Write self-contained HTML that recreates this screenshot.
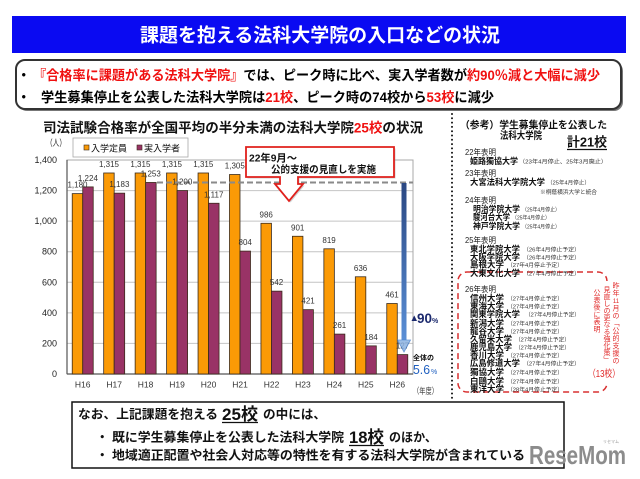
<!DOCTYPE html>
<html><head><meta charset="utf-8">
<style>
html,body{margin:0;padding:0;background:#fff;}
svg{display:block;}
text{font-family:"Liberation Sans","Noto Sans CJK JP",sans-serif;}
</style></head><body>
<svg width="640" height="479" viewBox="0 0 640 479" xmlns="http://www.w3.org/2000/svg">
<defs>
<linearGradient id="ag" x1="0" y1="0" x2="0" y2="1">
<stop offset="0" stop-color="#2a4782"/><stop offset="1" stop-color="#5a8fd6"/>
</linearGradient>
</defs>
<rect width="640" height="479" fill="#fff"/>

<!-- Title -->
<rect x="12" y="16" width="614" height="37" fill="#0a0af2"/>
<text x="140" y="41.5" font-size="19" font-weight="bold" fill="#fff" textLength="360" lengthAdjust="spacingAndGlyphs">課題を抱える法科大学院の入口などの状況</text>

<!-- Top box -->
<rect x="18" y="62" width="605" height="49" rx="9" fill="#777"/>
<rect x="16" y="60" width="605" height="49" rx="9" fill="#fff" stroke="#333" stroke-width="2"/>
<text x="17" y="80" font-size="13.5" font-weight="bold" fill="#000">・</text>
<text x="33" y="80" font-size="13.5" font-weight="bold" fill="#000" textLength="567" lengthAdjust="spacingAndGlyphs"><tspan fill="#f01010">『合格率に課題がある法科大学院』</tspan>では、ピーク時に比べ、実入学者数が<tspan fill="#f01010">約90％減と大幅に減少</tspan></text>
<text x="17" y="102" font-size="13.5" font-weight="bold" fill="#000">・</text>
<text x="41" y="102" font-size="13.5" font-weight="bold" fill="#000" textLength="453" lengthAdjust="spacingAndGlyphs">学生募集停止を公表した法科大学院は<tspan fill="#f01010">21校</tspan>、ピーク時の74校から<tspan fill="#f01010">53校</tspan>に減少</text>

<!-- Chart heading -->
<text x="43" y="132.5" font-size="13.5" font-weight="bold" fill="#111" textLength="380" lengthAdjust="spacingAndGlyphs">司法試験合格率が全国平均の半分未満の法科大学院<tspan fill="#f01010">25校</tspan>の状況</text>

<!-- unit -->
<text x="46" y="146" font-size="9" fill="#222" textLength="20" lengthAdjust="spacingAndGlyphs">（人）</text>

<!-- Grid -->
<g stroke="#c4c4c4" stroke-width="1">
<line x1="67" y1="343.4" x2="413" y2="343.4"/>
<line x1="67" y1="312.9" x2="413" y2="312.9"/>
<line x1="67" y1="282.3" x2="413" y2="282.3"/>
<line x1="67" y1="251.7" x2="413" y2="251.7"/>
<line x1="67" y1="221.1" x2="413" y2="221.1"/>
<line x1="67" y1="190.6" x2="413" y2="190.6"/>
</g>
<rect x="67" y="160" width="346" height="214" fill="none" stroke="#a8a8a8" stroke-width="1"/>
<line x1="67" y1="160" x2="67" y2="374" stroke="#555" stroke-width="1.2"/>
<line x1="67" y1="374" x2="413" y2="374" stroke="#555" stroke-width="1.2"/>

<!-- Y tick labels -->
<g font-size="9" fill="#222" text-anchor="end">
<text x="57" y="163">1,400</text>
<text x="57" y="193.6">1,200</text>
<text x="57" y="224.1">1,000</text>
<text x="57" y="254.7">800</text>
<text x="57" y="285.3">600</text>
<text x="57" y="315.9">400</text>
<text x="57" y="346.4">200</text>
<text x="57" y="377">0</text>
</g>

<!-- Bars -->
<g stroke="#3a2a1a" stroke-width="0.8">
<rect x="72.23" y="193.62" width="10.5" height="180.38" fill="#fb9a06"/>
<rect x="82.73" y="186.90" width="10.5" height="187.10" fill="#993366"/>
<rect x="103.68" y="172.99" width="10.5" height="201.01" fill="#fb9a06"/>
<rect x="114.18" y="193.16" width="10.5" height="180.84" fill="#993366"/>
<rect x="135.14" y="172.99" width="10.5" height="201.01" fill="#fb9a06"/>
<rect x="145.64" y="182.47" width="10.5" height="191.53" fill="#993366"/>
<rect x="166.59" y="172.99" width="10.5" height="201.01" fill="#fb9a06"/>
<rect x="177.09" y="190.57" width="10.5" height="183.43" fill="#993366"/>
<rect x="198.05" y="172.99" width="10.5" height="201.01" fill="#fb9a06"/>
<rect x="208.55" y="203.26" width="10.5" height="170.74" fill="#993366"/>
<rect x="229.5" y="174.52" width="10.5" height="199.48" fill="#fb9a06"/>
<rect x="240.0" y="251.10" width="10.5" height="122.90" fill="#993366"/>
<rect x="260.95" y="223.28" width="10.5" height="150.72" fill="#fb9a06"/>
<rect x="271.45" y="291.15" width="10.5" height="82.85" fill="#993366"/>
<rect x="292.41" y="236.27" width="10.5" height="137.73" fill="#fb9a06"/>
<rect x="302.91" y="309.65" width="10.5" height="64.35" fill="#993366"/>
<rect x="323.86" y="248.81" width="10.5" height="125.19" fill="#fb9a06"/>
<rect x="334.36" y="334.10" width="10.5" height="39.90" fill="#993366"/>
<rect x="355.32" y="276.78" width="10.5" height="97.22" fill="#fb9a06"/>
<rect x="365.82" y="345.87" width="10.5" height="28.13" fill="#993366"/>
<rect x="386.77" y="303.53" width="10.5" height="70.47" fill="#fb9a06"/>
<rect x="397.27" y="354.59" width="10.5" height="19.41" fill="#993366"/>
</g>

<!-- dashed peak line -->
<line x1="157" y1="182.5" x2="413" y2="182.5" stroke="#8a8a8a" stroke-width="2" stroke-dasharray="6,3"/>

<!-- Value labels -->
<g font-size="8" fill="#333" text-anchor="middle">
<text x="77.5" y="187.6">1,180</text>
<text x="87.9" y="180.9">1,224</text>
<text x="109" y="167">1,315</text>
<text x="119.4" y="187.2">1,183</text>
<text x="140.4" y="167">1,315</text>
<text x="150.8" y="176.5">1,253</text>
<text x="171.9" y="167">1,315</text>
<text x="182.3" y="184.6">1,200</text>
<text x="203.3" y="167">1,315</text>
<text x="213.7" y="197.3">1,117</text>
<text x="234.8" y="168.5">1,305</text>
<text x="245.2" y="245.1">804</text>
<text x="266.2" y="217.3">986</text>
<text x="276.6" y="285.2">542</text>
<text x="297.7" y="230.3">901</text>
<text x="308.1" y="303.6">421</text>
<text x="329.1" y="242.8">819</text>
<text x="339.6" y="328.1">261</text>
<text x="360.6" y="270.8">636</text>
<text x="371" y="339.9">184</text>
<text x="392" y="297.5">461</text>
<text x="402.5" y="348.6">127</text>
</g>

<!-- Legend -->
<rect x="73" y="138" width="115" height="19" fill="#fff" stroke="#a8a8a8" stroke-width="0.8"/>
<rect x="84" y="145" width="5" height="5" fill="#fb9a06" stroke="#3a2a1a" stroke-width="0.6"/>
<text x="91" y="151.5" font-size="9.2" fill="#111" textLength="36" lengthAdjust="spacingAndGlyphs">入学定員</text>
<rect x="137" y="145" width="5" height="5" fill="#993366" stroke="#3a2a1a" stroke-width="0.6"/>
<text x="144" y="151.5" font-size="9.2" fill="#111" textLength="36" lengthAdjust="spacingAndGlyphs">実入学者</text>

<!-- Callout -->
<polygon points="247.5,148.5 395.5,148.5 395.5,178.5 299.5,178.5 299.5,185.5 304.5,185.5 290.5,202.5 276.5,185.5 281.5,185.5 281.5,178.5 247.5,178.5" fill="#999" opacity="0.45"/>
<polygon points="246,147 394,147 394,177 298,177 298,184 303,184 289,201 275,184 280,184 280,177 246,177" fill="#fff" stroke="#e0201c" stroke-width="1.8" stroke-linejoin="miter"/>
<text x="249" y="161.5" font-size="10.5" font-weight="bold" fill="#111" textLength="48" lengthAdjust="spacingAndGlyphs">22年9月～</text>
<text x="271" y="173" font-size="10" font-weight="bold" fill="#111" textLength="105" lengthAdjust="spacingAndGlyphs">公的支援の見直しを実施</text>

<!-- Blue arrow -->
<rect x="401.5" y="183" width="5" height="157" fill="url(#ag)"/>
<polygon points="397.5,340 410.5,340 404,352" fill="#8db3e2" stroke="#4f86cf" stroke-width="0.8" opacity="0.85"/>

<!-- 90% annotation -->
<polygon points="411.5,321 417,321 414.25,315.5" fill="#1c2a6e"/>
<text x="417" y="323" font-size="14" font-weight="bold" fill="#1c2a6e" textLength="15" lengthAdjust="spacingAndGlyphs">90</text>
<text x="432" y="323" font-size="7" font-weight="bold" fill="#1c2a6e">%</text>
<text x="413" y="360" font-size="7" font-weight="bold" fill="#111" textLength="21" lengthAdjust="spacingAndGlyphs">全体の</text>
<text x="413" y="374" font-size="12.5" fill="#2060c0" textLength="17" lengthAdjust="spacingAndGlyphs">5.6</text>
<text x="431" y="374" font-size="7" fill="#2060c0">%</text>

<!-- X labels -->
<g font-size="8.5" fill="#333" text-anchor="middle">
<text x="82.7" y="387.5">H16</text>
<text x="114.2" y="387.5">H17</text>
<text x="145.6" y="387.5">H18</text>
<text x="177.1" y="387.5">H19</text>
<text x="208.5" y="387.5">H20</text>
<text x="240" y="387.5">H21</text>
<text x="271.5" y="387.5">H22</text>
<text x="302.9" y="387.5">H23</text>
<text x="334.4" y="387.5">H24</text>
<text x="365.8" y="387.5">H25</text>
<text x="397.3" y="387.5">H26</text>
</g>
<text x="413" y="394" font-size="8.5" fill="#333" textLength="25" lengthAdjust="spacingAndGlyphs">（年度）</text>

<!-- Right panel dotted line -->
<line x1="452" y1="114" x2="452" y2="398" stroke="#111" stroke-width="2" stroke-linecap="round" stroke-dasharray="0,4.3"/>

<text x="460" y="128.5" font-size="10" font-weight="bold" fill="#111" textLength="147" lengthAdjust="spacingAndGlyphs">（参考）学生募集停止を公表した</text>
<text x="500" y="139" font-size="10" font-weight="bold" fill="#111" textLength="42" lengthAdjust="spacingAndGlyphs">法科大学院</text>
<text x="567" y="146.5" font-size="13" font-weight="bold" fill="#111" textLength="40" lengthAdjust="spacingAndGlyphs">計21校</text>
<line x1="567" y1="149.5" x2="607" y2="149.5" stroke="#111" stroke-width="1.2"/>

<!-- red dashed box -->
<rect x="458" y="272" width="149" height="120" rx="9" fill="none" stroke="#d83030" stroke-width="1.5" stroke-dasharray="6,4"/>
<rect x="601" y="281" width="13" height="101" fill="#fff"/>

<g font-size="8" fill="#222">
<text x="465" y="155" textLength="31" lengthAdjust="spacingAndGlyphs">22年表明</text>
<text x="465" y="176" textLength="31" lengthAdjust="spacingAndGlyphs">23年表明</text>
<text x="465" y="203" textLength="31" lengthAdjust="spacingAndGlyphs">24年表明</text>
<text x="465" y="243" textLength="31" lengthAdjust="spacingAndGlyphs">25年表明</text>
<text x="465" y="292" textLength="31" lengthAdjust="spacingAndGlyphs">26年表明</text>
</g>

<g font-size="8.5" font-weight="bold" fill="#111">
<text x="470" y="164" textLength="48" lengthAdjust="spacingAndGlyphs">姫路獨協大学</text>
<text x="470" y="185" textLength="75" lengthAdjust="spacingAndGlyphs">大宮法科大学院大学</text>
<text x="473" y="212" textLength="47" lengthAdjust="spacingAndGlyphs">明治学院大学</text>
<text x="473" y="220" textLength="37" lengthAdjust="spacingAndGlyphs">駿河台大学</text>
<text x="473" y="229" textLength="47" lengthAdjust="spacingAndGlyphs">神戸学院大学</text>
<text x="470" y="252" textLength="50" lengthAdjust="spacingAndGlyphs">東北学院大学</text>
<text x="470" y="260" textLength="50" lengthAdjust="spacingAndGlyphs">大阪学院大学</text>
<text x="470" y="267.5" textLength="34" lengthAdjust="spacingAndGlyphs">島根大学</text>
<text x="470" y="276" textLength="50" lengthAdjust="spacingAndGlyphs">大東文化大学</text>
<text x="470" y="301" textLength="34" lengthAdjust="spacingAndGlyphs">信州大学</text>
<text x="470" y="309" textLength="34" lengthAdjust="spacingAndGlyphs">東海大学</text>
<text x="470" y="317" textLength="50" lengthAdjust="spacingAndGlyphs">関東学院大学</text>
<text x="470" y="326" textLength="34" lengthAdjust="spacingAndGlyphs">新潟大学</text>
<text x="470" y="334" textLength="34" lengthAdjust="spacingAndGlyphs">龍谷大学</text>
<text x="470" y="342" textLength="42" lengthAdjust="spacingAndGlyphs">久留米大学</text>
<text x="470" y="350" textLength="42" lengthAdjust="spacingAndGlyphs">鹿児島大学</text>
<text x="470" y="358" textLength="34" lengthAdjust="spacingAndGlyphs">香川大学</text>
<text x="470" y="366" textLength="50" lengthAdjust="spacingAndGlyphs">広島修道大学</text>
<text x="470" y="375" textLength="34" lengthAdjust="spacingAndGlyphs">獨協大学</text>
<text x="470" y="384" textLength="34" lengthAdjust="spacingAndGlyphs">白鷗大学</text>
<text x="470" y="392" textLength="34" lengthAdjust="spacingAndGlyphs">東洋大学</text>
</g>

<g font-size="5.7" fill="#333">
<text x="519" y="163.5" textLength="88" lengthAdjust="spacingAndGlyphs">（23年4月停止、25年3月廃止）</text>
<text x="547" y="184.5" textLength="43" lengthAdjust="spacingAndGlyphs">（25年4月停止）</text>
<text x="540" y="194" textLength="57" lengthAdjust="spacingAndGlyphs">※桐蔭横浜大学と統合</text>
<text x="522" y="211.5" textLength="38" lengthAdjust="spacingAndGlyphs">（25年4月停止）</text>
<text x="512" y="219.5" textLength="38" lengthAdjust="spacingAndGlyphs">（25年4月停止）</text>
<text x="522" y="228.5" textLength="38" lengthAdjust="spacingAndGlyphs">（25年4月停止）</text>
<text x="523" y="251.5" textLength="57" lengthAdjust="spacingAndGlyphs">（26年4月停止予定）</text>
<text x="523" y="259.5" textLength="57" lengthAdjust="spacingAndGlyphs">（26年4月停止予定）</text>
<text x="507" y="267" textLength="56" lengthAdjust="spacingAndGlyphs">（27年4月停止予定）</text>
<text x="523" y="275.5" textLength="57" lengthAdjust="spacingAndGlyphs">（27年4月停止予定）</text>
<text x="507" y="300.5" textLength="56" lengthAdjust="spacingAndGlyphs">（27年4月停止予定）</text>
<text x="507" y="308.5" textLength="56" lengthAdjust="spacingAndGlyphs">（27年4月停止予定）</text>
<text x="525" y="316.5" textLength="55" lengthAdjust="spacingAndGlyphs">（27年4月停止予定）</text>
<text x="507" y="325.5" textLength="56" lengthAdjust="spacingAndGlyphs">（27年4月停止予定）</text>
<text x="507" y="333.5" textLength="56" lengthAdjust="spacingAndGlyphs">（27年4月停止予定）</text>
<text x="515" y="341.5" textLength="55" lengthAdjust="spacingAndGlyphs">（27年4月停止予定）</text>
<text x="515" y="349.5" textLength="55" lengthAdjust="spacingAndGlyphs">（27年4月停止予定）</text>
<text x="507" y="357.5" textLength="56" lengthAdjust="spacingAndGlyphs">（27年4月停止予定）</text>
<text x="523" y="365.5" textLength="57" lengthAdjust="spacingAndGlyphs">（27年4月停止予定）</text>
<text x="507" y="374.5" textLength="56" lengthAdjust="spacingAndGlyphs">（27年4月停止予定）</text>
<text x="507" y="383.5" textLength="56" lengthAdjust="spacingAndGlyphs">（27年4月停止予定）</text>
<text x="507" y="391.5" textLength="56" lengthAdjust="spacingAndGlyphs">（28年4月停止予定）</text>
</g>

<!-- vertical red text -->
<g font-size="7" fill="#e02828" text-anchor="middle">
<text x="616" y="288">昨</text><text x="616" y="295.5">年</text><text x="616" y="303" font-size="6">11</text><text x="616" y="310.5">月</text><text x="616" y="318">の</text><text x="616" y="325.5">﹁</text><text x="616" y="333">公</text><text x="616" y="340.5">的</text><text x="616" y="348">支</text><text x="616" y="355.5">援</text><text x="616" y="363">の</text>
<text x="607" y="292">見</text><text x="607" y="299">直</text><text x="607" y="306">し</text><text x="607" y="313">の</text><text x="607" y="320">更</text><text x="607" y="327">な</text><text x="607" y="334">る</text><text x="607" y="341">強</text><text x="607" y="348">化</text><text x="607" y="355">策</text><text x="607" y="362">﹂</text>
<text x="597" y="295">公</text><text x="597" y="302.3">表</text><text x="597" y="309.6">後</text><text x="597" y="316.9">に</text><text x="597" y="324.2">表</text><text x="597" y="331.5">明</text>
</g>
<text x="588" y="377" font-size="10" fill="#e02828" textLength="32" lengthAdjust="spacingAndGlyphs">（13校）</text>

<!-- Bottom box -->
<rect x="72" y="402" width="492" height="66" fill="#fff" stroke="#111" stroke-width="1.5"/>
<text x="78" y="418.5" font-size="12.5" font-weight="bold" fill="#111" textLength="140" lengthAdjust="spacingAndGlyphs">なお、上記課題を抱える</text>
<text x="222" y="420" font-size="17" font-weight="bold" fill="#111" textLength="36" lengthAdjust="spacingAndGlyphs">25校</text>
<line x1="222" y1="422.5" x2="258" y2="422.5" stroke="#111" stroke-width="1.2"/>
<text x="263" y="418.5" font-size="12.5" font-weight="bold" fill="#111" textLength="63" lengthAdjust="spacingAndGlyphs">の中には、</text>

<text x="96" y="441.5" font-size="12.5" font-weight="bold" fill="#111">・</text>
<text x="112" y="441.5" font-size="12.5" font-weight="bold" fill="#111" textLength="232" lengthAdjust="spacingAndGlyphs">既に学生募集停止を公表した法科大学院</text>
<text x="349" y="443" font-size="17" font-weight="bold" fill="#111" textLength="35" lengthAdjust="spacingAndGlyphs">18校</text>
<line x1="349" y1="445.5" x2="384" y2="445.5" stroke="#111" stroke-width="1.2"/>
<text x="389" y="441.5" font-size="12.5" font-weight="bold" fill="#111" textLength="48" lengthAdjust="spacingAndGlyphs">のほか、</text>

<text x="96" y="459.5" font-size="12.5" font-weight="bold" fill="#111">・</text>
<text x="112" y="459.5" font-size="12.5" font-weight="bold" fill="#111" textLength="413" lengthAdjust="spacingAndGlyphs">地域適正配置や社会人対応等の特性を有する法科大学院が含まれている</text>

<!-- logo -->
<text x="529" y="464" font-size="26" font-weight="bold" fill="#8c8c8c" textLength="97" lengthAdjust="spacingAndGlyphs">ReseMom</text>
<text x="603" y="443" font-size="4" fill="#999">リセマム</text>
</svg>
</body></html>
